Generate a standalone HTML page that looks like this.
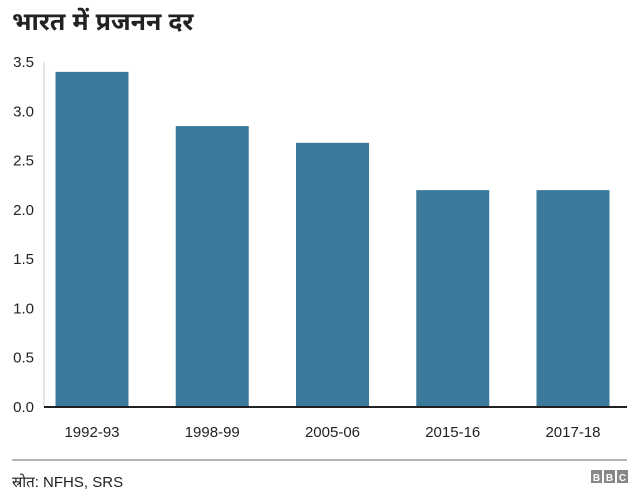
<!DOCTYPE html>
<html><head><meta charset="utf-8"><style>
body{margin:0;background:#fff;width:640px;height:496px;overflow:hidden;font-family:"Liberation Sans",sans-serif;}
</style></head><body>
<svg width="640" height="496" xmlns="http://www.w3.org/2000/svg">
<text x="12" y="30" font-size="25" font-weight="bold" fill="#222" font-family="'Liberation Sans', 'Noto Sans Devanagari', sans-serif">भारत में प्रजनन दर</text>
<g id="yaxis"></g>
<g id="bars"></g>
<g id="xaxis"></g>
<line x1="12" y1="460" x2="627" y2="460" stroke="#888" stroke-width="1.2"/>
<text x="12" y="487" font-size="15" fill="#222" font-family="'Liberation Sans', sans-serif">स्रोत: NFHS, SRS</text>
<g font-size="10" font-weight="bold" fill="#fff" text-anchor="middle">
<rect x="591" y="470" width="11" height="13" fill="#888"/><text x="596.5" y="481">B</text>
<rect x="604" y="470" width="11" height="13" fill="#888"/><text x="609.5" y="481">B</text>
<rect x="617" y="470" width="11" height="13" fill="#888"/><text x="622.5" y="481">C</text>
</g>
</svg>
<script>
const categories=["1992-93","1998-99","2005-06","2015-16","2017-18"];
const values=[3.4,2.85,2.68,2.2,2.2];
const yTicks=[0,0.5,1,1.5,2,2.5,3,3.5];
const yTickLabels=["0.0","0.5","1.0","1.5","2.0","2.5","3.0","3.5"];
const NS="http://www.w3.org/2000/svg";
const y0=407,yTop=62,yMax=3.5;
function y(v){return y0-(v/yMax)*(y0-yTop);}
function xc(i){return 92+i*120.25;}
const bw=73;
const ya=document.getElementById('yaxis'),ba=document.getElementById('bars'),xa=document.getElementById('xaxis');
function mk(t,a,p){const e=document.createElementNS(NS,t);for(const k in a)e.setAttribute(k,a[k]);p.appendChild(e);return e;}
const al=mk('line',{x1:44,y1:yTop,x2:44,y2:y0,stroke:'#ccc','stroke-width':1},ya);


yTicks.forEach((v,i)=>{const t=mk('text',{x:34,y:y(v)+5,'font-size':15,fill:'#222','text-anchor':'end'},ya);t.textContent=yTickLabels[i];

});
values.forEach((v,i)=>{const r=mk('rect',{x:xc(i)-bw/2,y:y(v),width:bw,height:y0-y(v),fill:'#3b7a9a'},ba);


const t=mk('text',{x:xc(i),y:437,'font-size':15,fill:'#222','text-anchor':'middle'},xa);t.textContent=categories[i];

});
const bl=mk('line',{x1:44,y1:y0,x2:627,y2:y0,stroke:'#222','stroke-width':2},xa);


</script>
</body></html>
